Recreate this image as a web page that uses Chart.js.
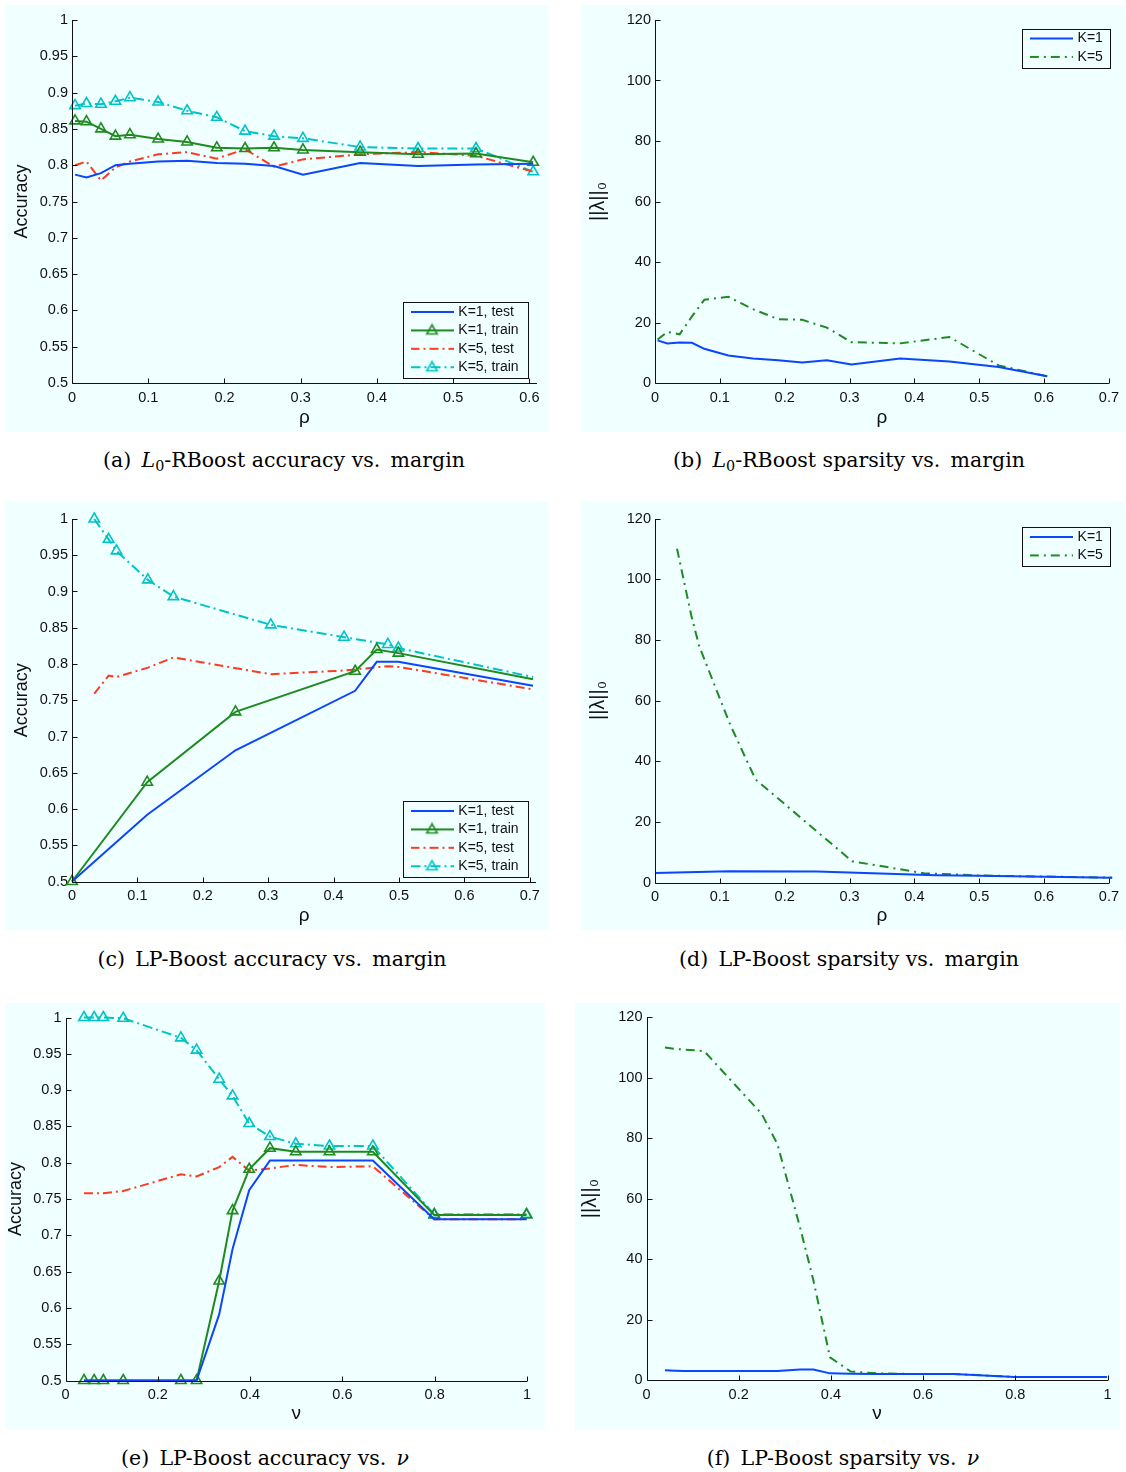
<!DOCTYPE html>
<html><head><meta charset="utf-8">
<script src="https://cdn.jsdelivr.net/npm/chart.js@4.4.1/dist/chart.umd.min.js"></script>
<style>
html,body{margin:0;padding:0;background:#fff}
body{position:relative;width:1126px;height:1472px;overflow:hidden}
.pane{position:absolute;background:#f0ffff}
.pane canvas{display:block}
.cap{position:absolute;font-family:"DejaVu Serif",serif;font-size:20.5px;color:#000;white-space:nowrap;transform:translateX(-50%);line-height:24px}
.cap sub{font-size:70%;vertical-align:-0.3em;line-height:0}
</style></head><body>
<div class="pane" style="left:5px;top:5px;width:544px;height:427px"><canvas id="ca" width="544" height="427"></canvas></div>
<div class="pane" style="left:581px;top:5px;width:544px;height:427px"><canvas id="cb" width="544" height="427"></canvas></div>
<div class="pane" style="left:5px;top:502px;width:544px;height:428px"><canvas id="cc" width="544" height="428"></canvas></div>
<div class="pane" style="left:581px;top:502px;width:544px;height:428px"><canvas id="cd" width="544" height="428"></canvas></div>
<div class="pane" style="left:5px;top:1003px;width:540px;height:427px"><canvas id="ce" width="540" height="427"></canvas></div>
<div class="pane" style="left:575px;top:1003px;width:545px;height:427px"><canvas id="cf" width="545" height="427"></canvas></div>

<div class="cap" style="left:284px;top:448px">(a)&ensp;<i>L</i><sub>0</sub>-RBoost accuracy vs.&ensp;margin</div>
<div class="cap" style="left:849px;top:448px">(b)&ensp;<i>L</i><sub>0</sub>-RBoost sparsity vs.&ensp;margin</div>
<div class="cap" style="left:272px;top:947px">(c)&ensp;LP-Boost accuracy vs.&ensp;margin</div>
<div class="cap" style="left:849px;top:947px">(d)&ensp;LP-Boost sparsity vs.&ensp;margin</div>
<div class="cap" style="left:265px;top:1446px">(e)&ensp;LP-Boost accuracy vs.&ensp;<i>ν</i></div>
<div class="cap" style="left:843px;top:1446px">(f)&ensp;LP-Boost sparsity vs.&ensp;<i>ν</i></div>

<script>
// ---------------- data ----------------
// (a) L0-RBoost accuracy vs margin
const rhoA = [0.004, 0.019, 0.038, 0.057, 0.076, 0.113, 0.151, 0.19, 0.227, 0.265, 0.303, 0.378, 0.454, 0.53, 0.605];
const accA_K1test  = [0.787, 0.783, 0.789, 0.800, 0.802, 0.805, 0.806, 0.803, 0.802, 0.799, 0.787, 0.803, 0.799, 0.801, 0.802];
const accA_K1train = [0.861, 0.860, 0.850, 0.840, 0.842, 0.836, 0.832, 0.824, 0.823, 0.824, 0.821, 0.818, 0.815, 0.816, 0.804];
const accA_K5test  = [0.800, 0.805, 0.779, 0.797, 0.805, 0.815, 0.818, 0.809, 0.822, 0.798, 0.808, 0.815, 0.818, 0.813, 0.791];
const accA_K5train = [0.882, 0.885, 0.884, 0.888, 0.893, 0.887, 0.875, 0.866, 0.847, 0.840, 0.837, 0.825, 0.823, 0.823, 0.791];
// (b) L0-RBoost sparsity vs margin
const spB_K1 = [14.1, 13.1, 13.4, 13.3, 11.3, 9.1, 8.1, 7.5, 6.8, 7.5, 6.1, 8.1, 7.1, 5.3, 2.2];
const spB_K5 = [14.4, 16.9, 16.1, 22.0, 27.5, 28.5, 24.4, 21.1, 20.9, 18.3, 13.5, 13.1, 15.2, 5.8, 2.2];
// (c) LP-Boost accuracy vs margin
const rhoC_K1 = [0, 0.115, 0.25, 0.433, 0.466, 0.499, 0.705];
const rhoC_K5 = [0.034, 0.056, 0.068, 0.116, 0.155, 0.304, 0.416, 0.483, 0.499, 0.705];
const accC_K1test  = [0.5, 0.592, 0.681, 0.763, 0.803, 0.803, 0.770];
const accC_K1train = [0.5, 0.637, 0.734, 0.790, 0.820, 0.815, 0.779];
const accC_K5test  = [0.759, 0.784, 0.782, 0.795, 0.809, 0.786, 0.791, 0.797, 0.796, 0.765];
const accC_K5train = [1.0, 0.972, 0.956, 0.916, 0.893, 0.854, 0.837, 0.827, 0.822, 0.782];
// (d) LP-Boost sparsity vs margin
const spD_K1 = [3.1, 3.7, 3.6, 2.4, 2.3, 2.2, 1.6];
const spD_K5 = [110, 88, 78, 52, 34, 7, 3, 2.5, 2.3, 1.6];
// (e) LP-Boost accuracy vs nu
const nuE = [0.04, 0.062, 0.082, 0.125, 0.25, 0.284, 0.333, 0.362, 0.398, 0.443, 0.499, 0.572, 0.666, 0.799, 0.999];
const accE_K1test  = [0.5, 0.5, 0.5, 0.5, 0.5, 0.5, 0.591, 0.681, 0.762, 0.803, 0.803, 0.803, 0.803, 0.722, 0.722];
const accE_K1train = [0.5, 0.5, 0.5, 0.5, 0.5, 0.5, 0.637, 0.734, 0.791, 0.820, 0.815, 0.815, 0.815, 0.728, 0.728];
const accE_K5test  = [0.758, 0.758, 0.758, 0.761, 0.784, 0.781, 0.794, 0.808, 0.789, 0.792, 0.797, 0.794, 0.795, 0.722, 0.722];
const accE_K5train = [1.0, 1.0, 1.0, 0.999, 0.972, 0.955, 0.915, 0.892, 0.854, 0.836, 0.826, 0.823, 0.823, 0.729, 0.729];
// (f) LP-Boost sparsity vs nu
const spF_K1 = [3.2, 3.1, 3.0, 3.0, 3.0, 3.0, 3.5, 3.5, 2.2, 2.1, 2.0, 2.0, 2.0, 1.0, 1.0];
const spF_K5 = [110, 109.5, 109.3, 108.8, 88, 78, 50.5, 33, 7.5, 2.8, 2.2, 2.0, 2.0, 1.0, 1.0];

// ticks and labels
const accTicks = [0.5, 0.55, 0.6, 0.65, 0.7, 0.75, 0.8, 0.85, 0.9, 0.95, 1];
const spTicks = [0, 20, 40, 60, 80, 100, 120];
const rhoTicksA = [0, 0.1, 0.2, 0.3, 0.4, 0.5, 0.6];
const rhoTicks = [0, 0.1, 0.2, 0.3, 0.4, 0.5, 0.6, 0.7];
const nuTicks = [0, 0.2, 0.4, 0.6, 0.8, 1];
const accNames = ['K=1, test', 'K=1, train', 'K=5, test', 'K=5, train'];
const spNames = ['K=1', 'K=5'];

// ---------------- styles ----------------
const FONT = '"Liberation Sans", Arial, sans-serif';
const INK = '#111111';
const BLUE = '#0a45ff', GREEN = '#1f8a1f', RED = '#ff3b1f', CYAN = '#00c3c8';
const stK1test  = {color: BLUE,  dash: [],            marker: false};
const stK1train = {color: GREEN, dash: [],            marker: true};
const stK5test  = {color: RED,   dash: [9, 4, 2, 4],  marker: false};
const stK5train = {color: CYAN,  dash: [10, 4, 2, 4], marker: true};
const stSpK1 = {color: BLUE,  dash: [],           marker: false};
const stSpK5 = {color: GREEN, dash: [9, 5, 2, 5], marker: false};

function icon(st) {
  const c = document.createElement('canvas');
  c.width = 43; c.height = 14;
  const g = c.getContext('2d');
  g.strokeStyle = st.color; g.lineWidth = 2; g.setLineDash(st.dash);
  g.beginPath(); g.moveTo(0, 7); g.lineTo(43, 7); g.stroke();
  if (st.marker) {
    g.setLineDash([]); g.lineWidth = 1.6;
    const r = 6, cx = 21.5, cy = 7.5;
    g.beginPath(); g.moveTo(cx, cy - r); g.lineTo(cx + r * 0.866, cy + r / 2); g.lineTo(cx - r * 0.866, cy + r / 2); g.closePath(); g.stroke();
  }
  return c;
}

function ds(label, xs, ys, st, hideLast) {
  return {
    label: label,
    data: xs.map((x, i) => ({x: x, y: ys[i]})),
    borderColor: st.color, backgroundColor: 'rgba(0,0,0,0)', borderWidth: 2, borderDash: st.dash,
    pointStyle: 'triangle',
    pointRadius: st.marker ? xs.map((_, i) => (hideLast && i === xs.length - 1) ? 0 : 6) : 0,
    pointBorderWidth: 1.6, pointBackgroundColor: 'rgba(0,0,0,0)', pointBorderColor: st.color,
    tension: 0, clip: false, _st: st
  };
}

const fmt = v => String(+(+v).toFixed(2));

const matlabAxes = {
  id: 'matlabAxes',
  afterLayout(chart, args, opt) {
    const lg = chart.legend;
    if (lg && opt.legendAt) {
      lg.left = opt.legendAt[0]; lg.top = opt.legendAt[1];
      lg.right = lg.left + 300; lg.bottom = lg.top + 200;
    }
  },
  beforeDraw(chart, args, opt) {
    if (opt.box) {
      const c = chart.ctx, b = opt.box;
      c.save(); c.strokeStyle = INK; c.lineWidth = 1;
      c.strokeRect(Math.round(b[0]) + 0.5, Math.round(b[1]) + 0.5, Math.round(b[2]), Math.round(b[3]));
      c.restore();
    }
  },
  afterDatasetsDraw(chart) {
    const c = chart.ctx, a = chart.chartArea, xs = chart.scales.x, ys = chart.scales.y;
    const L = Math.round(a.left) + 0.5, B = Math.round(a.bottom) + 0.5;
    c.save(); c.strokeStyle = INK; c.lineWidth = 1;
    c.beginPath(); c.moveTo(L, Math.round(a.top)); c.lineTo(L, B); c.lineTo(Math.round(a.right), B); c.stroke();
    c.beginPath();
    xs.ticks.forEach(t => { const p = Math.round(xs.getPixelForValue(t.value)) + 0.5; c.moveTo(p, B); c.lineTo(p, B - 5); });
    ys.ticks.forEach(t => { const p = Math.round(ys.getPixelForValue(t.value)) + 0.5; c.moveTo(L, p); c.lineTo(L + 5, p); });
    c.stroke(); c.restore();
  }
};

function makeChart(p) {
  const cv = document.getElementById(p.id);
  const W = cv.width, H = cv.height, ox = p.origin[0], oy = p.origin[1];
  const Lf = p.area[0] - ox, T = p.area[1] - oy, R = p.area[2] - ox, Bt = p.area[3] - oy;
  const lgFont = 14, lgPad = 4.4;
  new Chart(cv, {
    type: 'line',
    data: {datasets: p.datasets},
    options: {
      responsive: false, animation: false, devicePixelRatio: 1,
      layout: {padding: {left: 0, top: T, right: W - R, bottom: 0}, autoPadding: false},
      scales: {
        x: {
          type: 'linear', min: p.xmin, max: p.xmax,
          afterFit(s) { s.height = H - Bt; },
          afterBuildTicks(s) { s.ticks = p.xticks.map(v => ({value: v})); },
          grid: {display: false, drawTicks: false}, border: {display: false},
          ticks: {autoSkip: false, maxRotation: 0, padding: 6, color: INK, font: {family: FONT, size: 14.5}, callback: v => fmt(v)},
          title: {display: true, text: p.xtitle, color: INK, font: {family: FONT, size: 19}, padding: {top: 0, bottom: p.xtitlePad}}
        },
        y: {
          type: 'linear', min: p.ymin, max: p.ymax,
          afterFit(s) { s.width = Lf; },
          afterBuildTicks(s) { s.ticks = p.yticks.map(v => ({value: v})); },
          grid: {display: false, drawTicks: false}, border: {display: false},
          ticks: {autoSkip: false, padding: 4, color: INK, font: {family: FONT, size: 14.5}, callback: v => fmt(v)},
          title: {display: true, text: p.ytitle, color: INK, font: {family: FONT, size: p.ytitleSize || 18}, padding: {top: p.ytitlePad, bottom: 0}}
        }
      },
      plugins: {
        tooltip: {enabled: false},
        legend: p.legend ? {
          display: true, position: 'chartArea', align: 'start',
          labels: {
            usePointStyle: true, pointStyleWidth: 38.6, padding: lgPad, color: INK,
            font: {family: FONT, size: lgFont},
            generateLabels(chart) {
              return chart.data.datasets.map((d, i) => ({
                text: d.label, pointStyle: icon(d._st), datasetIndex: i, hidden: false,
                lineWidth: 0, fillStyle: 'rgba(0,0,0,0)', strokeStyle: 'rgba(0,0,0,0)', fontColor: INK
              }));
            }
          }
        } : {display: false},
        matlabAxes: p.legend ? {
          legendAt: [p.legend.left - ox, p.legend.row1 - 7 - lgPad - oy],
          box: [p.legend.box[0] - ox, p.legend.box[1] - oy, p.legend.box[2], p.legend.box[3]]
        } : {}
      }
    },
    plugins: [matlabAxes]
  });
}

// (a)
makeChart({
  id: 'ca', origin: [5, 5], area: [72, 20, 537, 383],
  xmin: 0, xmax: 0.61, ymin: 0.5, ymax: 1, xticks: rhoTicksA, yticks: accTicks,
  xtitle: 'ρ', xtitlePad: 2.6, ytitle: 'Accuracy', ytitlePad: 6.2,
  legend: {left: 408.3, row1: 312, box: [402.5, 301.5, 125, 76]},
  datasets: [
    ds(accNames[0], rhoA, accA_K1test, stK1test),
    ds(accNames[1], rhoA, accA_K1train, stK1train),
    ds(accNames[2], rhoA, accA_K5test, stK5test),
    ds(accNames[3], rhoA, accA_K5train, stK5train)
  ]
});
// (b)
makeChart({
  id: 'cb', origin: [581, 5], area: [655, 20, 1112, 383],
  xmin: 0, xmax: 0.7, ymin: 0, ymax: 120, xticks: rhoTicks, yticks: spTicks,
  xtitle: 'ρ', xtitlePad: 2.6, ytitle: '||λ||₀', ytitleSize: 20, ytitlePad: 5,
  legend: {left: 1027.6, row1: 38.5, box: [1021.5, 28.5, 88, 39]},
  datasets: [
    ds(spNames[0], rhoA, spB_K1, stSpK1),
    ds(spNames[1], rhoA, spB_K5, stSpK5)
  ]
});
// (c)
makeChart({
  id: 'cc', origin: [5, 502], area: [72, 519, 536.3, 881.5],
  xmin: 0, xmax: 0.71, ymin: 0.5, ymax: 1, xticks: rhoTicks, yticks: accTicks,
  xtitle: 'ρ', xtitlePad: 2.6, ytitle: 'Accuracy', ytitlePad: 6.2,
  legend: {left: 408.3, row1: 811, box: [402.5, 800.5, 125, 76]},
  datasets: [
    ds(accNames[0], rhoC_K1, accC_K1test, stK1test),
    ds(accNames[1], rhoC_K1, accC_K1train, stK1train, true),
    ds(accNames[2], rhoC_K5, accC_K5test, stK5test),
    ds(accNames[3], rhoC_K5, accC_K5train, stK5train, true)
  ]
});
// (d)
makeChart({
  id: 'cd', origin: [581, 502], area: [655, 518.5, 1112, 882.5],
  xmin: 0, xmax: 0.7, ymin: 0, ymax: 120, xticks: rhoTicks, yticks: spTicks,
  xtitle: 'ρ', xtitlePad: 2.6, ytitle: '||λ||₀', ytitleSize: 20, ytitlePad: 5,
  legend: {left: 1027.6, row1: 537, box: [1021.5, 526.5, 88, 39]},
  datasets: [
    ds(spNames[0], rhoC_K1, spD_K1, stSpK1),
    ds(spNames[1], rhoC_K5, spD_K5, stSpK5)
  ]
});
// (e)
makeChart({
  id: 'ce', origin: [5, 1003], area: [65.5, 1017.5, 527, 1380.5],
  xmin: 0, xmax: 1, ymin: 0.5, ymax: 1, xticks: nuTicks, yticks: accTicks,
  xtitle: 'ν', xtitlePad: 4.6, ytitle: 'Accuracy', ytitlePad: 0,
  legend: null,
  datasets: [
    ds(accNames[0], nuE, accE_K1test, stK1test),
    ds(accNames[1], nuE, accE_K1train, stK1train),
    ds(accNames[2], nuE, accE_K5test, stK5test),
    ds(accNames[3], nuE, accE_K5train, stK5train)
  ]
});
// (f)
makeChart({
  id: 'cf', origin: [575, 1003], area: [646.5, 1017.2, 1107.5, 1380],
  xmin: 0, xmax: 1, ymin: 0, ymax: 120, xticks: nuTicks, yticks: spTicks,
  xtitle: 'ν', xtitlePad: 4.6, ytitle: '||λ||₀', ytitleSize: 20, ytitlePad: 3,
  legend: null,
  datasets: [
    ds(spNames[0], nuE, spF_K1, stSpK1),
    ds(spNames[1], nuE, spF_K5, stSpK5)
  ]
});
</script>
</body></html>
